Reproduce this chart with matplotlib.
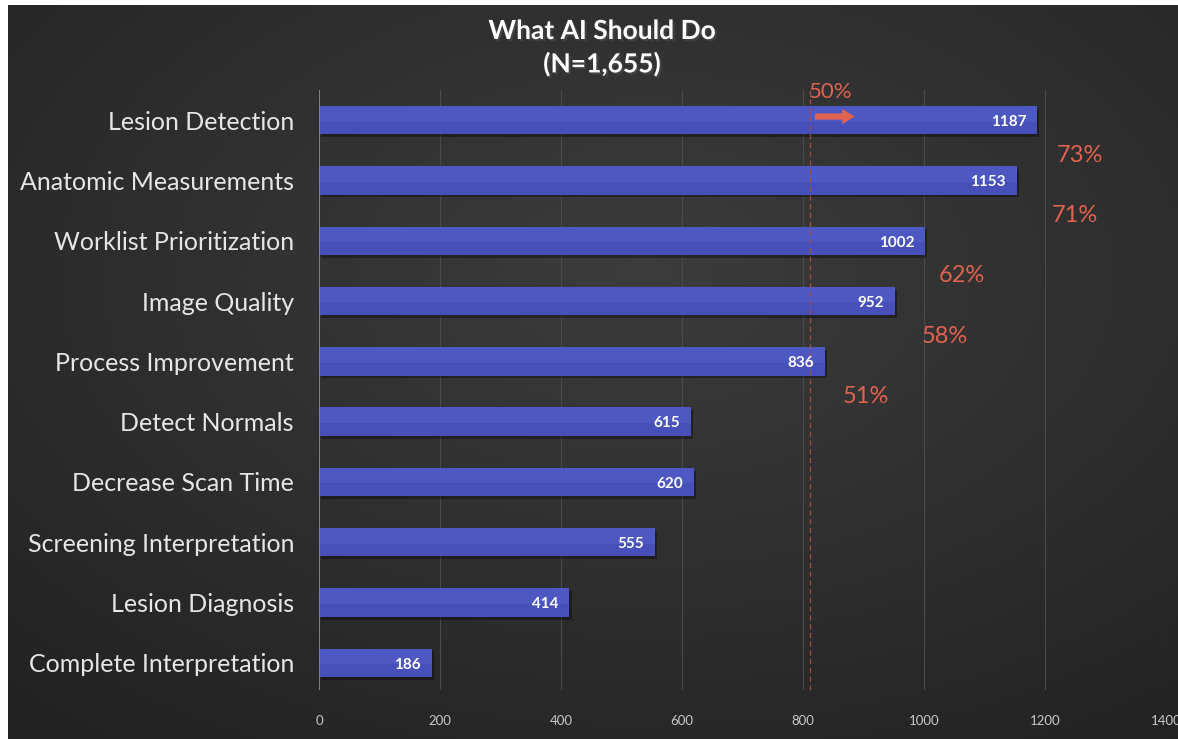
import numpy as np
import matplotlib
matplotlib.use("Agg")
import matplotlib.pyplot as plt
import matplotlib.patheffects as pe

# data
categories = ["Lesion Detection", "Anatomic Measurements", "Worklist Prioritization",
              "Image Quality", "Process Improvement", "Detect Normals",
              "Decrease Scan Time", "Screening Interpretation", "Lesion Diagnosis",
              "Complete Interpretation"]
counts = [1187, 1153, 1002, 952, 836, 615, 620, 555, 414, 186]
pct_labels = ["73%", "71%", "62%", "58%", "51%"]
pct_x = [1258, 1250, 1063, 1035, 904]
threshold = 811  # 50% line
xticks = [0, 200, 400, 600, 800, 1000, 1200, 1400]

plt.rcParams['font.family'] = ['Lato', 'DejaVu Sans']

fig = plt.figure(figsize=(11.78, 7.39), dpi=100, facecolor='white')

# dark radial background
bg = fig.add_axes([8/1178, 0, 1 - 8/1178, 1 - 5/739])
yy, xx = np.mgrid[0:300, 0:480]
r = np.sqrt(((xx - 260) / 420.0) ** 2 + ((yy - 110) / 260.0) ** 2)
shade = np.clip(0.235 - 0.11 * r, 0.12, 0.25)
img = np.dstack([shade, shade, shade])
bg.imshow(img, aspect='auto', extent=[0, 1, 0, 1], origin='upper')
bg.axis('off')

ax = fig.add_axes([319/1178, 1 - 690/739, (1166 - 319)/1178, (690 - 90)/739])
ax.patch.set_alpha(0)
y = np.arange(len(categories))
bh = 0.47
bars = ax.barh(y, counts, height=bh, color='#4650b8', zorder=3)
for b in bars:
    b.set_path_effects([pe.SimplePatchShadow(offset=(1.5, -2), shadow_rgbFace='black', alpha=0.35),
                        pe.Normal()])
    # slightly lighter upper half (axis is inverted, so smaller y is on top)
    ax.barh(b.get_y() + bh * 0.275, b.get_width(), height=bh * 0.55,
            color='#4e58c2', zorder=3, linewidth=0)

for yi, c in zip(y, counts):
    ax.text(c - 18, yi + 0.03, str(c), ha='right', va='center', color='white',
            fontsize=11, fontweight='bold', zorder=5)

ax.set_ylim(9.45, -0.5)
ax.set_xlim(0, 1400)
ax.set_yticks(y)
ax.set_yticklabels(categories, fontsize=18, color='#e6e6e6')
ax.set_xticks(xticks)
ax.set_xticklabels([str(t) for t in xticks], fontsize=9.5, color='#c8c8c8')
ax.tick_params(length=0)
ax.tick_params(axis='y', pad=18)
ax.tick_params(axis='x', pad=18)
for s in ax.spines.values():
    s.set_visible(False)
ax.grid(axis='x', color='#4a4a4a', linewidth=0.8, zorder=0)
ax.axvline(0, color='#8a8a8a', linewidth=1.2, zorder=4)

red = '#e0624f'
ax.axvline(threshold, color='#b04a40', linewidth=0.9, linestyle=(0, (4, 3)), zorder=4)
ax.text(845, -0.47, "50%", color=red, fontsize=16, ha='center', va='center', zorder=6)
ax.annotate("", xy=(890, -0.06), xytext=(815, -0.06),
            arrowprops=dict(arrowstyle='simple,head_width=1.1,head_length=0.9,tail_width=0.45',
                            color=red, lw=0), zorder=6)
for i, (lab, px) in enumerate(zip(pct_labels, pct_x)):
    ax.text(px, i + 0.58, lab, color=red, fontsize=17, ha='center', va='center', zorder=6)

fig.text(0.511, 1 - 31/739, "What AI Should Do", ha='center', va='center',
         color='white', fontsize=19, fontweight='bold',
         path_effects=[pe.withSimplePatchShadow(offset=(1.5, -1.5), alpha=0.6)])
fig.text(0.511, 1 - 64/739, "(N=1,655)", ha='center', va='center',
         color='white', fontsize=19, fontweight='bold',
         path_effects=[pe.withSimplePatchShadow(offset=(1.5, -1.5), alpha=0.6)])

fig.savefig("out.png", dpi=100, facecolor='white')
